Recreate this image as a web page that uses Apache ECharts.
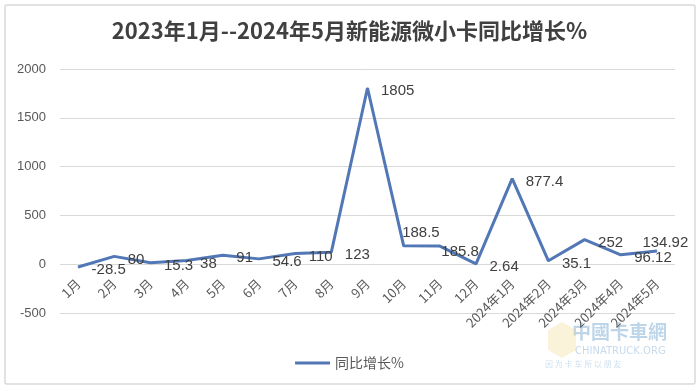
<!DOCTYPE html>
<html><head><meta charset="utf-8">
<script src="https://cdn.jsdelivr.net/npm/echarts@6/dist/echarts.min.js"></script>
<style>html,body{margin:0;padding:0;background:#fff}#c{width:699px;height:391px}</style>
</head><body><div id="c"></div>
<script>
const categories = ['1月','2月','3月','4月','5月','6月','7月','8月','9月','10月','11月','12月','2024年1月','2024年2月','2024年3月','2024年4月','2024年5月'];
const growth = [-28.5, 80, 15.3, 38, 91, 54.6, 110, 123, 1805, 188.5, 185.8, 2.64, 877.4, 35.1, 252, 96.12, 134.92];
const yTicks = { min: -500, max: 2000, interval: 500 };
const seriesName = '同比增长%';
const titleText = '2023年1月--2024年5月新能源微小卡同比增长%';
// label nudges (index -> offset), kept apart from data
const labelOffsets = { 9: [-15, -13], 10: [-12, 6], 16: [-28, -8] };

const H = 391, gridTop = 69, gridBottom = 78;
const plotH = H - gridTop - gridBottom;
const zeroOffset = -plotH * (0 - yTicks.min) / (yTicks.max - yTicks.min);

const chart = echarts.init(document.getElementById('c'), null, { renderer: 'canvas' });
const data = growth.map((v, i) => labelOffsets[i] ? { value: v, label: { offset: labelOffsets[i] } } : v);
chart.setOption({
  backgroundColor: '#fff',
  animation: false,
  title: {
    text: titleText, left: 'center', top: 15,
    textStyle: { fontFamily: 'Noto Sans CJK SC', fontWeight: 'bold', fontSize: 22, color: '#404040' }
  },
  graphic: [
    { type: 'rect', shape: { x: 5, y: 5, width: 690, height: 379, r: 2 }, style: { fill: 'none', stroke: '#d9d9d9', lineWidth: 1.5 }, z: -1 },
    { type: 'text', left: 572, top: 322, style: { text: '中國卡車網', fontSize: 19, fontFamily: 'Noto Sans CJK TC', fill: 'rgba(90,150,200,0.4)', fontWeight: 'bold' } },
    { type: 'text', left: 575, top: 346, style: { text: 'CHINATRUCK.ORG', fontSize: 10, fontFamily: 'DejaVu Sans', fill: 'rgba(90,150,200,0.35)' } },
    { type: 'text', left: 545, top: 360, style: { text: '因 为 卡 车 所 以 朋 友', fontSize: 8, fontFamily: 'Noto Sans CJK SC', fill: 'rgba(90,150,200,0.3)' } },
    { type: 'polygon', shape: { points: [[548,330],[562,322],[576,330],[576,350],[562,358],[548,350]] }, style: { fill: 'rgba(240,215,130,0.3)' } }
  ],
  grid: { left: 60, right: 24, top: gridTop, bottom: gridBottom },
  legend: {
    data: [seriesName], left: 'center', top: 351,
    icon: 'rect', itemWidth: 35, itemHeight: 3,
    textStyle: { fontFamily: 'Noto Sans CJK SC', fontSize: 14, color: '#595959' }
  },
  xAxis: {
    type: 'category', data: categories, boundaryGap: true,
    offset: zeroOffset,
    axisLine: { show: false, onZero: false },
    axisTick: { show: false },
    axisLabel: { rotate: 45, interval: 0, fontSize: 13, color: '#595959', fontFamily: 'Noto Sans CJK SC', margin: 17 }
  },
  yAxis: {
    type: 'value', min: yTicks.min, max: yTicks.max, interval: yTicks.interval,
    axisLine: { show: false }, axisTick: { show: false },
    splitLine: { lineStyle: { color: '#d9d9d9' } },
    axisLabel: { fontSize: 13, color: '#595959', fontFamily: 'Liberation Sans', margin: 14, formatter: v => String(v) }
  },
  series: [{
    name: seriesName, type: 'line', data: data,
    symbol: 'circle', symbolSize: 1, showSymbol: true,
    lineStyle: { color: '#5177b6', width: 3 },
    itemStyle: { color: '#5177b6' },
    label: { show: true, position: 'right', distance: 13, offset: [0, 3], fontSize: 15, color: '#404040', fontFamily: 'Liberation Sans' }
  }]
});
</script></body></html>
